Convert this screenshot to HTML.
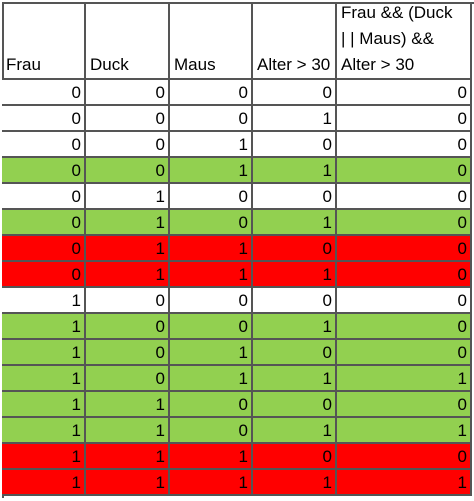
<!DOCTYPE html>
<html><head><meta charset="utf-8"><style>
html,body{margin:0;padding:0;background:#fff;width:474px;height:501px;overflow:hidden}
#t{position:absolute;left:0;top:0}
.c{position:absolute;box-sizing:border-box;font-family:"Liberation Sans",sans-serif;font-size:17px;color:#000;border-right:2px solid #555;border-bottom:2px solid #555}
.v{text-align:right;padding-right:3px;line-height:26px}
.h{padding-left:4px;line-height:26px;display:flex;flex-direction:column;justify-content:flex-end;padding-bottom:0}
</style></head><body>
<div id="t"></div>
<script>
const headers=["Frau","Duck","Maus","Alter > 30","Frau && (Duck<br>| | Maus) &&<br>Alter > 30"];
const rows=[
[0,0,0,0,0],[0,0,0,1,0],[0,0,1,0,0],[0,0,1,1,0],
[0,1,0,0,0],[0,1,0,1,0],[0,1,1,0,0],[0,1,1,1,0],
[1,0,0,0,0],[1,0,0,1,0],[1,0,1,0,0],[1,0,1,1,1],
[1,1,0,0,0],[1,1,0,1,1],[1,1,1,0,0],[1,1,1,1,1]];
const rowColors=["","","","g","","g","r","r","","g","g","g","g","g","r","r"];
const colX=[2,86,170,253,337,472];
const t=document.getElementById('t');
const top0=2,headH=78,rowH=26;
const bg={"":"#fff","g":"#92D050","r":"#FF0000"};
const tb=document.createElement('div');
tb.style.cssText='position:absolute;left:2px;top:2px;width:472px;height:2px;background:#555';


t.appendChild(tb);
const lb=document.createElement('div');
lb.style.cssText='position:absolute;left:2px;top:2px;width:2px;height:496px;background:#555';


t.appendChild(lb);
for(let j=0;j<5;j++){
  const d=document.createElement('div');
  d.className='c h';
  d.style.left=colX[j]+'px';d.style.top=top0+'px';
  d.style.width=(colX[j+1]-colX[j])+'px';d.style.height=headH+'px';
  d.innerHTML=headers[j];
  
  
  t.appendChild(d);
}
rows.forEach((r,i)=>{
  r.forEach((v,j)=>{
    const d=document.createElement('div');
    d.className='c v';
    d.style.left=colX[j]+'px';
    d.style.top=(top0+headH+i*rowH)+'px';
    d.style.width=(colX[j+1]-colX[j])+'px';d.style.height=rowH+'px';
    d.style.background=bg[rowColors[i]];
    d.textContent=v;
    
    
    t.appendChild(d);
  });
});
</script>
</body></html>
